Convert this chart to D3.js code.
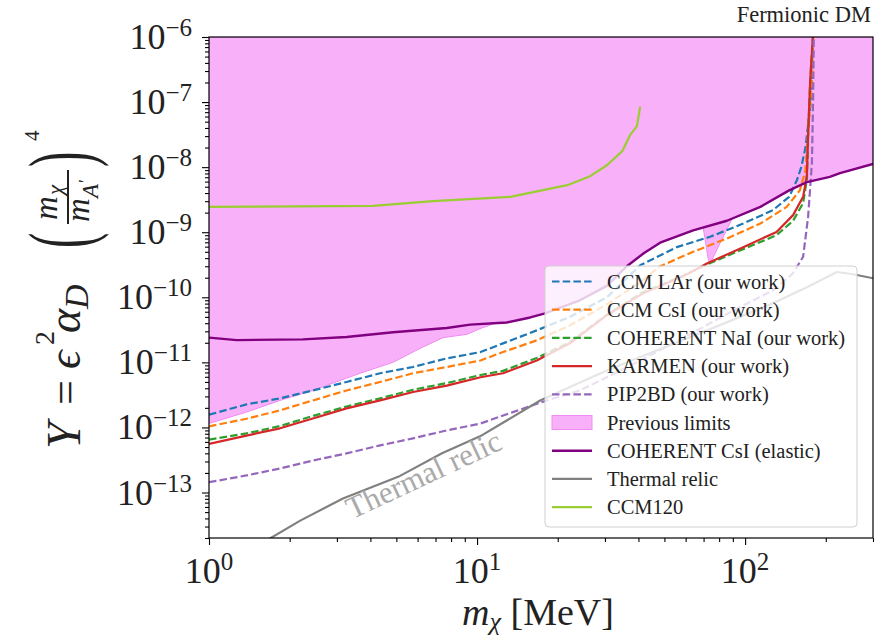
<!DOCTYPE html>
<html>
<head>
<meta charset="utf-8">
<script src="https://cdn.jsdelivr.net/npm/d3@7"></script>
<style>
body { margin: 0; background: #fff; }
text { font-family: "Liberation Serif", "Times New Roman", "DejaVu Serif", serif; fill: #222; }
</style>
</head>
<body>
<script>
// curves: [m_chi in MeV, Y]
var ccmLAr = [[1.0,1.57e-12],[1.38,2.26e-12],[1.84,2.8e-12],[2.44,3.7e-12],[3.26,5.0e-12],[4.35,6.8e-12],[5.77,8.5e-12],[7.71,1.15e-11],[10.3,1.44e-11],[12.5,1.96e-11],[16.7,3.1e-11],[22.2,5.0e-11],[30.5,1.0e-10],[40.6,3.1e-10],[55.6,5.9e-10],[74,8.5e-10],[98.4,1.36e-9],[127,2.18e-9],[146,3.5e-9],[156,6.3e-9],[162,1.0e-8],[168,2.0e-8],[175,8.5e-8],[178,3e-7],[179.5,1.2e-6]];
var ccmCsI = [[1.0,1.04e-12],[1.38,1.36e-12],[1.84,1.83e-12],[2.44,2.6e-12],[3.26,3.7e-12],[4.35,5.0e-12],[5.77,6.8e-12],[7.71,8.5e-12],[10.3,1.07e-11],[12.5,1.44e-11],[16.7,2.18e-11],[22.2,3.7e-11],[30.5,7.8e-11],[40.6,1.7e-10],[48.2,3.0e-10],[64,5.0e-10],[85.5,8.0e-10],[114,1.36e-9],[143,2.45e-9],[160,4.4e-9],[168,9.0e-9],[172,3.7e-8],[177.5,2.2e-7],[179.5,1.2e-6]];
var cohNaI = [[1.0,6.5e-13],[1.38,8.1e-13],[1.84,1.05e-12],[2.44,1.5e-12],[3.26,2.1e-12],[4.35,2.8e-12],[5.77,3.8e-12],[7.71,4.8e-12],[10.3,6.4e-12],[12.5,7.4e-12],[16.7,1.17e-11],[22.2,2.05e-11],[30.5,5.4e-11],[41.6,1.2e-10],[58.7,2.15e-10],[72,3.2e-10],[98.4,5.5e-10],[131,9.0e-10],[151,1.5e-9],[164.6,2.8e-9],[170,6.5e-9],[172,3.5e-8],[175,2.2e-7],[179.5,1.2e-6]];
var karmen = [[1.0,5.6e-13],[1.38,7.5e-13],[1.84,9.7e-13],[2.44,1.37e-12],[3.26,1.96e-12],[4.35,2.6e-12],[5.77,3.5e-12],[7.71,4.4e-12],[10.3,5.9e-12],[12.5,6.8e-12],[16.7,1.07e-11],[22.2,1.96e-11],[30.5,5.3e-11],[41.6,1.15e-10],[58.7,2.1e-10],[68,2.9e-10],[72,3.3e-10],[98.4,5.9e-10],[131,1.01e-9],[151,1.83e-9],[164.6,3.5e-9],[170,7.5e-9],[172,3.7e-8],[175,2.2e-7],[179.5,1.2e-6]];
var pip2bd = [[1.0,1.44e-13],[1.38,1.83e-13],[1.84,2.34e-13],[2.44,3.1e-13],[3.26,4.0e-13],[4.35,5.3e-13],[5.77,6.8e-13],[7.71,9.0e-13],[10.3,1.15e-12],[13.6,1.72e-12],[18.2,2.6e-12],[24.2,3.7e-12],[30.5,5.9e-12],[40.6,1.07e-11],[53.9,1.96e-11],[95.8,7.1e-11],[127,1.28e-10],[151,2.34e-10],[164.6,4.2e-10],[171.8,1.72e-9],[177.5,1.15e-8],[179.4,1.2e-7],[180.5,1.2e-6]];
var cohCsI = [[1.0,2.4e-11],[1.27,2.2e-11],[2.24,2.26e-11],[3.26,2.45e-11],[4.86,2.9e-11],[7.71,3.37e-11],[9.42,3.8e-11],[12.9,4.1e-11],[15.8,4.9e-11],[17.8,5.6e-11],[24.2,9.0e-11],[30.5,1.5e-10],[36.2,3.0e-10],[42,4.8e-10],[48.2,6.9e-10],[64,1.07e-9],[85.5,1.5e-9],[114,2.45e-9],[146,4.4e-9],[170,5.9e-9],[207,7.1e-9],[226,8.1e-9],[300,1.12e-8]];
var thermal = [[1.55,1.6e-14],[2.19,3.7e-14],[3.16,8.1e-14],[5.16,1.8e-13],[7.4,4.0e-13],[10.26,7.3e-13],[12.9,1.28e-12],[17.2,2.6e-12],[22.2,4.2e-12],[30.5,7.5e-12],[40.6,1.21e-11],[72.1,3.1e-11],[95.8,5.0e-11],[127,8.1e-11],[170.7,1.44e-10],[220,2.45e-10],[253,2.26e-10],[300,1.96e-10]];
var ccm120 = [[1.0,2.45e-9],[4.09,2.54e-9],[6.85,3.0e-9],[13.3,3.49e-9],[21.7,5.28e-9],[26.4,7.27e-9],[30.5,1.07e-8],[34.8,1.76e-8],[37.2,3.1e-8],[39.5,4.27e-8],[40.6,8.5e-8]];
// lower edge of the excluded (pink) region
var prevLimits = [[1.0,1.15e-12],[1.38,1.72e-12],[1.84,2.6e-12],[2.44,3.7e-12],[3.66,6.8e-12],[4.86,1.0e-11],[6.13,1.64e-11],[7.47,2.4e-11],[9.18,2.7e-11],[10.26,3.3e-11],[11.5,3.9e-11],[12.9,4.1e-11],[15.8,4.9e-11],[17.8,5.6e-11],[24.2,9.0e-11],[30.5,1.5e-10],[36.2,3.0e-10],[42,4.8e-10],[48.2,6.9e-10],[64,1.07e-9],[69.7,1.2e-9],[73,3.7e-10],[74,3.3e-10],[89.4,1.6e-9],[114,2.45e-9],[146,4.4e-9],[170,5.9e-9],[207,7.1e-9],[226,8.1e-9],[300,1.12e-8]];

var xTickExp = [0, 1, 2];
var yTickExp = [-6, -7, -8, -9, -10, -11, -12, -13];
var legendLabels = ["CCM LAr (our work)", "CCM CsI (our work)", "COHERENT NaI (our work)", "KARMEN (our work)", "PIP2BD (our work)", "Previous limits", "COHERENT CsI (elastic)", "Thermal relic", "CCM120"];

var w = 880, h = 637;
var pink = "#f8b0f8";

var x = d3.scaleLog().domain([1, 300]).range([209, 873]);
var y = d3.scaleLog().domain([2e-14, 1e-6]).range([538, 37]);

var svg = d3.select("body").append("svg")
    .attr("width", w)
    .attr("height", h)
    .attr("font-family", "Liberation Serif, serif");

svg.append("clipPath").attr("id", "plotclip")
  .append("rect")
    .attr("x", 209).attr("y", 37)
    .attr("width", 664).attr("height", 501);

var plot = svg.append("g").attr("clip-path", "url(#plotclip)");

var area = d3.area()
    .x(function(d) { return x(d[0]); })
    .y0(y(1e-6))
    .y1(function(d) { return y(d[1]); });

plot.append("path")
    .datum(prevLimits)
    .attr("d", area)
    .attr("fill", pink)
    .attr("stroke", "#f08cf0")
    .attr("stroke-width", 1);

var line = d3.line()
    .x(function(d) { return x(d[0]); })
    .y(function(d) { return y(d[1]); });

var series = [
    {data: ccmLAr, color: "#1f77b4", dash: "7.5,3.2", lw: 2.2},
    {data: ccmCsI, color: "#ff7f0e", dash: "7.5,3.2", lw: 2.2},
    {data: cohNaI, color: "#2ca02c", dash: "7.5,3.2", lw: 2.2},
    {data: karmen, color: "#d62728", dash: null, lw: 2.2},
    {data: pip2bd, color: "#9467bd", dash: "7.5,3.2", lw: 2.2},
    {data: cohCsI, color: "#800080", dash: null, lw: 2.4},
    {data: thermal, color: "#808080", dash: null, lw: 2.2},
    {data: ccm120, color: "#9acd32", dash: null, lw: 2.2}
];

series.forEach(function(s) {
    plot.append("path")
        .datum(s.data)
        .attr("d", line)
        .attr("fill", "none")
        .attr("stroke", s.color)
        .attr("stroke-width", s.lw)
        .attr("stroke-dasharray", s.dash)
        .attr("stroke-linejoin", "round");
});

// label sitting along the thermal relic curve
svg.append("text")
    .attr("transform", "translate(428,484) rotate(-25)")
    .attr("text-anchor", "middle")
    .attr("font-size", 31)
    .style("fill", "#aaaaaa")
    .text("Thermal relic");

// axes
var yMinor = y.ticks().filter(function(v) { return Math.abs(Math.log10(v) - Math.round(Math.log10(v))) > 1e-6; });
var xMinor = x.ticks().filter(function(v) { return Math.abs(Math.log10(v) - Math.round(Math.log10(v))) > 1e-6; });
var yMajor = yTickExp.map(function(e) { return Math.pow(10, e); });
var xMajor = xTickExp.map(function(e) { return Math.pow(10, e); });

function tidy(g) {
    g.select(".domain").remove();
    g.selectAll("line").attr("stroke", "#000").attr("stroke-width", 1.1);
}

svg.append("g").attr("transform", "translate(209,0)")
    .call(d3.axisLeft(y).tickValues(yMajor).tickSize(7).tickFormat(""))
    .call(tidy);
svg.append("g").attr("transform", "translate(209,0)")
    .call(d3.axisLeft(y).tickValues(yMinor).tickSize(4).tickFormat(""))
    .call(tidy);
svg.append("g").attr("transform", "translate(0,538)")
    .call(d3.axisBottom(x).tickValues(xMajor).tickSize(7).tickFormat(""))
    .call(tidy);
svg.append("g").attr("transform", "translate(0,538)")
    .call(d3.axisBottom(x).tickValues(xMinor).tickSize(4).tickFormat(""))
    .call(tidy);

function powerLabel(t, e) {
    t.append("tspan").text("10");
    t.append("tspan").attr("dy", -13).attr("font-size", 25)
        .text(e < 0 ? "\u2212" + (-e) : String(e));
}

yTickExp.forEach(function(e) {
    var t = svg.append("text")
        .attr("x", 192)
        .attr("y", y(Math.pow(10, e)) + 12)
        .attr("text-anchor", "end")
        .attr("font-size", 36);
    powerLabel(t, e);
});

xTickExp.forEach(function(e) {
    var t = svg.append("text")
        .attr("x", x(Math.pow(10, e)))
        .attr("y", 583)
        .attr("text-anchor", "middle")
        .attr("font-size", 36);
    powerLabel(t, e);
});

// x axis title
var xt = svg.append("text")
    .attr("x", 538).attr("y", 625)
    .attr("text-anchor", "middle")
    .attr("font-size", 38);
xt.append("tspan").attr("font-style", "italic").text("m");
xt.append("tspan").attr("font-style", "italic").attr("font-size", 26).attr("dy", 5).text("\u03c7");
xt.append("tspan").attr("dy", -5).text(" [MeV]");

// y axis title, built piece by piece in rotated frame
var yl = svg.append("g").attr("transform", "translate(50,287) rotate(-90)");
function put(str, px, py, size, italic) {
    return yl.append("text").attr("x", px).attr("y", py)
        .attr("font-size", size)
        .attr("font-style", italic ? "italic" : "normal")
        .text(str);
}
put("Y", -162, 30, 48, true);
put("=", -118, 30, 44, false);
put("\u03f5", -82, 30, 46, true);
put("2", -58, 4, 28, false);
put("\u03b1", -46, 30, 46, true);
put("D", -22, 38, 34, true);
yl.append("text").attr("transform", "translate(39,40) scale(1,1.95)")
    .attr("font-size", 46).text("(");
put("m", 67, 7, 33, true);
put("\u03c7", 92, 13, 23, true);
yl.append("line").attr("x1", 63).attr("x2", 117).attr("y1", 18).attr("y2", 18)
    .attr("stroke", "#222").attr("stroke-width", 2);
put("m", 65, 39, 33, true);
put("A", 89, 48, 23, true);
put("\u2032", 104, 42, 18, false);
yl.append("text").attr("transform", "translate(120,40) scale(1,1.95)")
    .attr("font-size", 46).text(")");
put("4", 146, -11, 21, false);

// title
svg.append("text")
    .attr("x", 871).attr("y", 22)
    .attr("text-anchor", "end")
    .attr("font-size", 22.5)
    .text("Fermionic DM");

// legend
var lg = svg.append("g");
lg.append("rect")
    .attr("x", 545).attr("y", 266)
    .attr("width", 312).attr("height", 261)
    .attr("rx", 4)
    .attr("fill", "#fff").attr("fill-opacity", 0.8)
    .attr("stroke", "#d0d0d0").attr("stroke-width", 1);

var legendStyle = [series[0], series[1], series[2], series[3], series[4], null, series[5], series[6], series[7]];
legendLabels.forEach(function(lab, i) {
    var cy = 281.5 + i * 28.2;
    var s = legendStyle[i];
    if (s) {
        lg.append("line")
            .attr("x1", 552).attr("x2", 592)
            .attr("y1", cy).attr("y2", cy)
            .attr("stroke", s.color)
            .attr("stroke-width", s.lw)
            .attr("stroke-dasharray", s.dash);
    } else {
        lg.append("rect")
            .attr("x", 552).attr("y", cy - 7)
            .attr("width", 40).attr("height", 14)
            .attr("fill", pink)
            .attr("stroke", "#f08cf0").attr("stroke-width", 1);
    }
    lg.append("text")
        .attr("x", 607).attr("y", cy + 7)
        .attr("font-size", 20.5)
        .text(lab);
});

// frame
svg.append("rect")
    .attr("x", 209).attr("y", 37)
    .attr("width", 664).attr("height", 501)
    .attr("fill", "none")
    .attr("stroke", "#000")
    .attr("stroke-width", 1.2);
</script>
</body>
</html>
